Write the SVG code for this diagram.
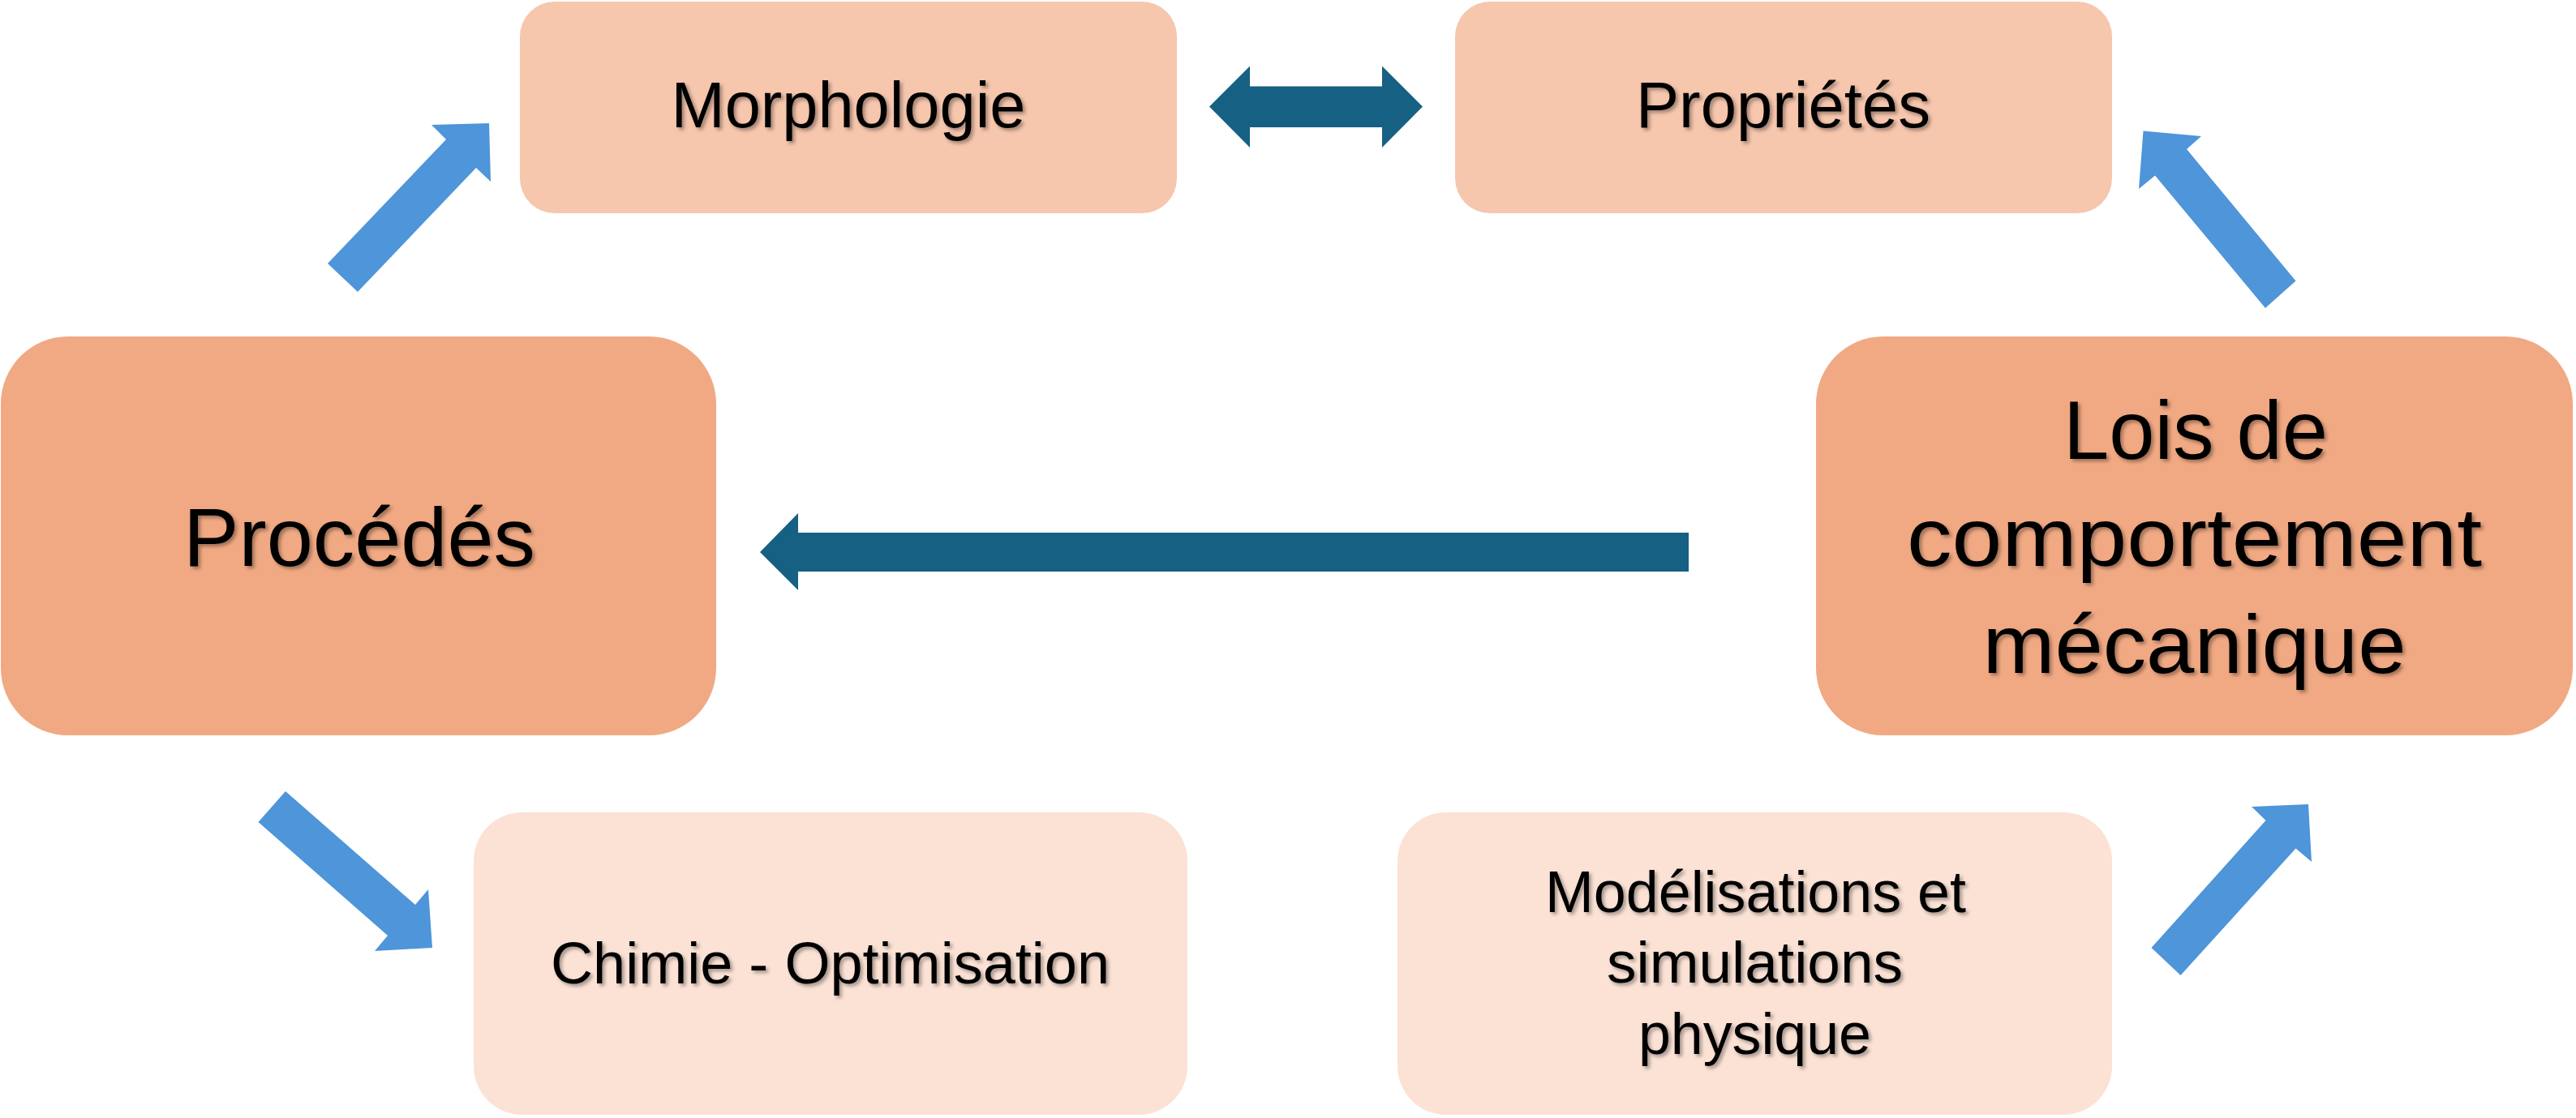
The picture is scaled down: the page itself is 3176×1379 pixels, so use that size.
<svg xmlns="http://www.w3.org/2000/svg" width="3176" height="1379" viewBox="0 0 3176 1379">
<defs>
<filter id="ts" x="-5%" y="-20%" width="110%" height="140%">
<feDropShadow dx="3" dy="3" stdDeviation="2" flood-color="#000" flood-opacity="0.35"/>
</filter>
</defs>
<style>
.big{fill:#F1A983}
.top{fill:#F6C6AD}
.bot{fill:#FBE2D5}
.t{font-family:"Liberation Sans",Arial,sans-serif;fill:#000;text-anchor:middle;filter:url(#ts)}
.tb{font-size:102px}
.tm{font-size:79px}
.ts{font-size:72px}
.blue{fill:#4E95D9}
.teal{fill:#166083}
</style>
<rect width="3176" height="1379" fill="#fff"/>
<g id="connectors">
<polygon class="teal" points="2082,657 984,657 984,633 937,681 984,728 984,705 2082,705"/>
<polygon class="teal" points="1491,131.5 1541,81.5 1541,106.5 1704,106.5 1704,81.5 1754,131.5 1704,182 1704,157 1541,157 1541,182"/>
<polygon class="blue" points="404,325 550,172 532,154 603,152 605,224 587,207 441,360"/>
<polygon class="blue" points="2830.5,346.5 2696,184 2714,168 2642.5,161.5 2637,233 2657,216.5 2793,380"/>
<polygon class="blue" points="352,976 512,1116 528,1097 533,1169 462,1173 478,1154 318.5,1014"/>
<polygon class="blue" points="2652.5,1169 2793.5,1012 2776,995 2846,992 2850,1063 2830.5,1046.5 2688.5,1203"/>
</g>
<g id="morphologie">
<rect class="top" x="641" y="2" width="810" height="261" rx="43"/>
<text class="t tm" x="1046" y="157" textLength="437" lengthAdjust="spacingAndGlyphs">Morphologie</text>
</g>
<g id="proprietes">
<rect class="top" x="1794" y="2" width="810" height="261" rx="43"/>
<text class="t tm" x="2198.5" y="157" textLength="363" lengthAdjust="spacingAndGlyphs">Propriétés</text>
</g>
<g id="procedes">
<rect class="big" x="1" y="415" width="882" height="492" rx="83"/>
<text class="t tb" x="443" y="698" textLength="434" lengthAdjust="spacingAndGlyphs">Procédés</text>
</g>
<g id="lois">
<rect class="big" x="2239" y="415" width="933" height="492" rx="83"/>
<text class="t tb" x="2707" y="566" textLength="326" lengthAdjust="spacingAndGlyphs">Lois de</text>
<text class="t tb" x="2705.5" y="698" textLength="709" lengthAdjust="spacingAndGlyphs">comportement</text>
<text class="t tb" x="2705.5" y="830" textLength="522" lengthAdjust="spacingAndGlyphs">mécanique</text>
</g>
<g id="chimie">
<rect class="bot" x="584" y="1002" width="880" height="373" rx="60"/>
<text class="t ts" x="1023.5" y="1213" textLength="689" lengthAdjust="spacingAndGlyphs">Chimie - Optimisation</text>
</g>
<g id="modelisations">
<rect class="bot" x="1723" y="1002" width="881" height="373" rx="60"/>
<text class="t ts" x="2164.5" y="1125" textLength="519" lengthAdjust="spacingAndGlyphs">Modélisations et</text>
<text class="t ts" x="2163.5" y="1212" textLength="365" lengthAdjust="spacingAndGlyphs">simulations</text>
<text class="t ts" x="2163.5" y="1300" textLength="287" lengthAdjust="spacingAndGlyphs">physique</text>
</g>
</svg>
